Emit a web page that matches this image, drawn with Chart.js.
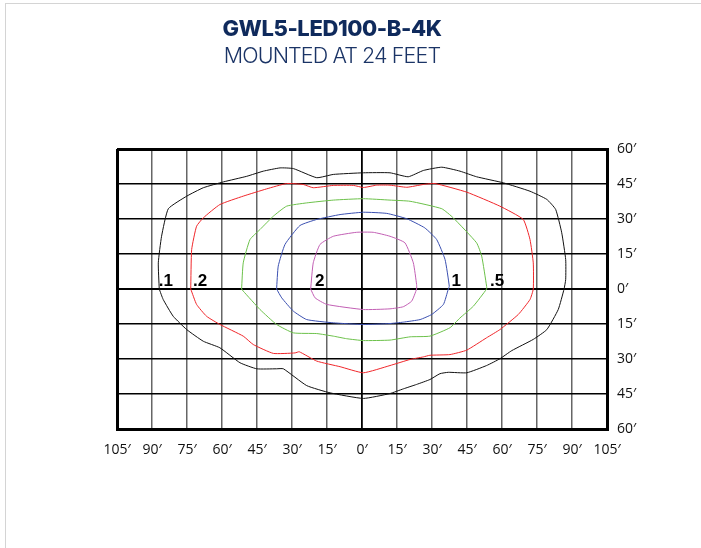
<!DOCTYPE html>
<html>
<head>
<meta charset="utf-8">
<script src="https://cdn.jsdelivr.net/npm/chart.js@4"></script>
<style>
  body { margin: 0; background: #fff; }
  #frame { position: absolute; left: 5px; top: 3px; width: 696px; height: 545px; border-top: 1px solid #d4d4d4; border-left: 1px solid #d4d4d4; }
  #wrap { position: absolute; left: 0; top: 0; width: 701px; height: 548px; }
  .ttl { position: absolute; left: 0; width: 664px; text-align: center; color: #0f2a5c; }
  #t1 { top: 15px; font: 800 22px "Inter", "Open Sans", sans-serif; letter-spacing: -0.4px; }
  #t2 { top: 42px; font: 300 21.5px "Inter", "Lato", sans-serif; letter-spacing: -0.9px; color: #1b3466; }
</style>
</head>
<body>
<div id="frame"></div>
<div id="wrap"><canvas id="chart" width="701" height="548"></canvas></div>
<div class="ttl" id="t1">GWL5-LED100-B-4K</div>
<div class="ttl" id="t2">MOUNTED AT 24 FEET</div>
<script>
// isofootcandle contours, feet from fixture (x across, y along)
const c01X = [-86.9, -87.3, -85.9, -83, -75.1, -68, -59.4, -49.4, -42.3, -35.1, -29.4, -19.4, -12.3, 0.6, 12, 19.8, 26.3, 34.2, 42, 49.1, 60.6, 72, 79.2, 83, 85.6, 87.3, 87.3, 86.6, 84.1, 79.2, 73.4, 64.2, 59.1, 53.4, 44.9, 37, 33.4, 29.1, 23.4, 17.7, 12, 0.6, -13.7, -23.7, -33.7, -36.6, -45.1, -52.3, -60.9, -68, -75.1, -80.9, -85.2, -86.9];
const c01Y = [0, 11.2, 22.6, 34.4, 39.8, 43.4, 45.9, 48.3, 50.5, 51.9, 51.6, 47.7, 49.1, 49.8, 49.8, 48.1, 50.8, 52.2, 50.5, 48.1, 45.5, 41.9, 38.4, 34.1, 24.1, 12.6, 4.1, 0, -8.8, -17.4, -21.6, -26.4, -29.9, -32.8, -35.9, -35.7, -36.3, -38.8, -40.9, -42.8, -44.8, -46.9, -44.5, -41.4, -34.2, -34.2, -34.2, -31.6, -25.2, -22.4, -17.4, -11.7, -4.5, 0];

const c02X = [-73.4, -73, -70.9, -68, -60.9, -50.9, -40.9, -32.3, -25.2, -20.9, -12.3, -3.7, 0.6, 6.3, 12, 19.2, 26.3, 31.3, 44.9, 59.1, 69.1, 72, 73.4, 73.4, 72, 67, 59.1, 53.4, 44.9, 37.7, 29.1, 26.3, 20.6, 12, 0.6, -9.4, -19.4, -26.9, -28.7, -38, -46.6, -50.9, -60.9, -66.6, -70.9, -73.4];
const c02Y = [0, 16.9, 26.9, 30.5, 36.2, 39.8, 42.9, 45.2, 44.8, 43.4, 44.4, 44.4, 43.5, 44.5, 44.5, 43.6, 44.8, 45.2, 41.5, 35.5, 29.8, 21.2, 11.2, 0, -4.5, -10.9, -17.4, -20.9, -26.2, -28.1, -28.4, -29.1, -30.2, -32.8, -35.9, -33.3, -30.9, -26.9, -27.4, -27.6, -23.8, -20.2, -15.2, -11.7, -6.6, 0];

const c05X = [-51.6, -50.9, -48, -43.7, -38, -32.3, -23.7, -12.3, 0.6, 12, 20.6, 34.2, 39.1, 49.1, 51.3, 53.4, 53.4, 47.7, 42, 37.7, 29.1, 20.6, 12, 0.6, -6.6, -12.3, -19.4, -29.4, -36.6, -43.7, -50.9, -51.6];
const c05Y = [0, 11.2, 21.2, 25.5, 31.2, 35.5, 36.9, 38.1, 38.7, 38.1, 37.6, 34.4, 30.5, 19.8, 14.1, 1.2, 0, -7.4, -12.4, -16.6, -20.2, -20.5, -21.9, -22.1, -21.3, -20.2, -19.1, -18.8, -15.2, -8.8, -0.9, 0];

const c1X = [-36.6, -35.9, -33, -26.6, -19.4, -9.4, 0.6, 10.6, 19.2, 26.9, 32, 35.6, 37.4, 37, 34.9, 29.9, 24.9, 17.7, 12, 0.6, -12.3, -23.7, -29.4, -34.4, -36.6];
const c1Y = [0, 9.8, 19.1, 27.2, 29.8, 31.9, 32.9, 32.4, 30.1, 26.2, 21.2, 12.6, 1.2, 0, -6.6, -10.9, -13.1, -14.2, -14.8, -15.2, -14.5, -13.1, -9.5, -3.8, 0];

const c2X = [-22, -20.9, -18, -12.3, -2.3, 4.8, 12, 18.4, 22, 23.4, 23.4, 21.3, 17.7, 12, 0.6, -15.1, -20.1, -22];
const c2Y = [0, 11.2, 19.1, 22.6, 24.3, 24.3, 22.6, 19.8, 11.2, 1.9, 0, -5.2, -7.6, -8.5, -8.8, -6.6, -3.8, 0];

// contour labels (footcandles) and where their text starts
const labelText = ['.1', '.2', '2', '1', '.5'];
const labelX = [-87.1, -72.4, -20.1, 38.4, 54.9];
const labelY = [1.2, 1.2, 1.2, 1.2, 1.2];

const toPts = (xs, ys) => xs.map((x, i) => ({ x: x, y: ys[i] }));

const contourLabels = {
  id: 'contourLabels',
  afterDatasetsDraw(chart) {
    const c = chart.ctx, sx = chart.scales.x, sy = chart.scales.y;
    c.save();
    c.fillStyle = '#000';
    c.font = 'bold 17px "Liberation Sans", Arial, sans-serif';
    c.textBaseline = 'alphabetic';
    labelText.forEach((t, i) => {
      c.fillText(t, sx.getPixelForValue(labelX[i]), sy.getPixelForValue(labelY[i]));
    });
    c.restore();
  }
};

function line(xs, ys, color) {
  return {
    data: toPts(xs, ys),
    showLine: true,
    borderColor: color,
    borderWidth: 1,
    pointRadius: 0,
    tension: 0.15,
    fill: false
  };
}

const edgeX = v => v === -105 || v === 105;
const edgeY = v => v === -60 || v === 60;

new Chart(document.getElementById('chart'), {
  type: 'scatter',
  data: {
    datasets: [
      line(c01X, c01Y, '#111'),
      line(c02X, c02Y, '#f0262a'),
      line(c05X, c05Y, '#6cc14a'),
      line(c1X, c1Y, '#3a4fb0'),
      line(c2X, c2Y, '#c25fb4'),
      { data: [{ x: 0, y: 0 }], pointRadius: 1.5, pointBackgroundColor: '#000', pointBorderWidth: 0 }
    ]
  },
  options: {
    responsive: false,
    animation: false,
    layout: { padding: { left: 117, top: 149, right: 0, bottom: 0 } },
    plugins: { legend: { display: false }, tooltip: { enabled: false } },
    scales: {
      x: {
        type: 'linear',
        min: -105, max: 105,
        afterFit: s => { s.height = 119; },
        ticks: {
          stepSize: 15,
          color: '#111',
          padding: 13,
          maxRotation: 0,
          font: { family: '"Liberation Sans Narrow", "Open Sans", sans-serif', size: 14 },
          callback: v => Math.abs(v) + '′'
        },
        grid: {
          drawTicks: false,
          color: c => (c.tick.value === 0 || edgeX(c.tick.value)) ? '#000' : '#666',
          lineWidth: c => edgeX(c.tick.value) ? 3 : (c.tick.value === 0 ? 1.8 : 1.5)
        },
        border: { color: '#000', width: 3 }
      },
      y: {
        type: 'linear',
        position: 'right',
        min: -60, max: 60,
        afterFit: s => { s.width = 94; },
        ticks: {
          stepSize: 15,
          color: '#111',
          padding: 10,
          font: { family: '"Liberation Sans Narrow", "Open Sans", sans-serif', size: 14 },
          callback: v => Math.abs(v) + '′'
        },
        grid: {
          drawTicks: false,
          color: '#000',
          lineWidth: c => edgeY(c.tick.value) ? 3 : (c.tick.value === 0 ? 2 : 1.5)
        },
        border: { color: '#000', width: 3 }
      }
    }
  },
  plugins: [contourLabels]
});
</script>
</body>
</html>
